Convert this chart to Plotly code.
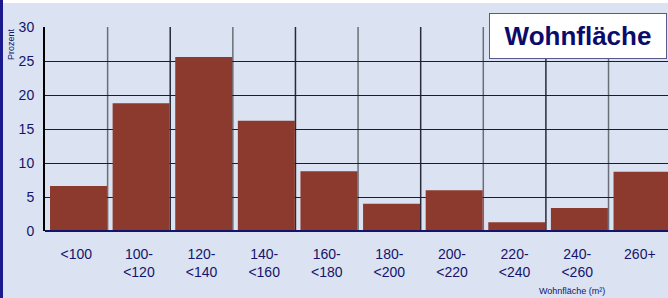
import plotly.graph_objects as go

categories = ["<100", "100-<br><120", "120-<br><140", "140-<br><160", "160-<br><180",
              "180-<br><200", "200-<br><220", "220-<br><240", "240-<br><260", "260+"]
values = [6.6, 18.8, 25.6, 16.2, 8.8, 4.0, 6.0, 1.3, 3.4, 8.7]
y_ticks = [0, 5, 10, 15, 20, 25, 30]

W, H = 668, 298
L, R, T, B = 45, 0, 27, 67
pw, ph = W - L - R, H - T - B

def px(x):
    return (x - L) / pw

def py(y):
    return (H - B - y) / ph

navy = "#14146b"
bg = "#dbe2f1"

fig = go.Figure(go.Bar(x=list(range(len(categories))), y=values, marker_color="#8c3a2e",
                       marker_line_width=0, width=0.91, offset=-0.42))

fig.update_layout(
    width=W, height=H,
    margin=dict(l=L, r=R, t=T, b=B, pad=0),
    paper_bgcolor=bg, plot_bgcolor=bg,
    showlegend=False,
    font=dict(family="Liberation Sans, Arial, sans-serif", color=navy),
    xaxis=dict(range=[-0.5, 9.45], tickmode="array", tickvals=list(range(len(categories))),
               ticktext=categories, showgrid=False, zeroline=False, ticks="",
               tickfont=dict(size=14, color=navy), ticklabelstandoff=13, fixedrange=True),
    yaxis=dict(range=[0, 30], tickvals=y_ticks, showgrid=True, gridcolor=navy, gridwidth=1,
               zeroline=False, showline=True, linecolor="#000000", linewidth=2, ticks="",
               tickfont=dict(size=14, color=navy), ticklabelstandoff=6, fixedrange=True),
    bargap=0.09,
)

# vertical grid lines at category boundaries
for i in range(1, len(categories)):
    fig.add_shape(type="line", xref="x", yref="paper", x0=i - 0.5, x1=i - 0.5, y0=0, y1=1,
                  line=dict(color="#2a2a3a" if i % 2 == 0 else "#6a6e78", width=1.5), layer="below")
# bottom axis line
fig.add_shape(type="line", xref="paper", yref="paper", x0=0, x1=1, y0=0, y1=0,
              line=dict(color=navy, width=2))
# left dark border strip
fig.add_shape(type="rect", xref="paper", yref="paper", x0=px(0), x1=px(3), y0=py(H), y1=py(0),
              fillcolor="#1a1a8c", line_width=0)
# top white strip
fig.add_shape(type="rect", xref="paper", yref="paper", x0=px(3), x1=px(W), y0=py(3), y1=py(0),
              fillcolor="#ffffff", line_width=0)

fig.add_annotation(text="<b>Wohnfläche</b>", xref="paper", yref="paper", x=px(578), y=py(36),
                   xanchor="center", yanchor="middle",
                   showarrow=False, font=dict(size=26, color="#0b0b6b"), bgcolor="#ffffff",
                   bordercolor="#5a5a8a", borderwidth=1, borderpad=4, width=168, height=36)
fig.add_annotation(text="Prozent", xref="paper", yref="paper", x=px(11), y=py(44),
                   xanchor="center", yanchor="middle",
                   showarrow=False, textangle=-90, font=dict(size=9, color=navy))
fig.add_annotation(text="Wohnfläche (m²)", xref="paper", yref="paper", x=px(572), y=py(291),
                   xanchor="center", yanchor="middle",
                   showarrow=False, font=dict(size=9, color=navy))

fig.write_html("out.html", config={"displayModeBar": False},
               post_script="document.body.style.margin='0';")
